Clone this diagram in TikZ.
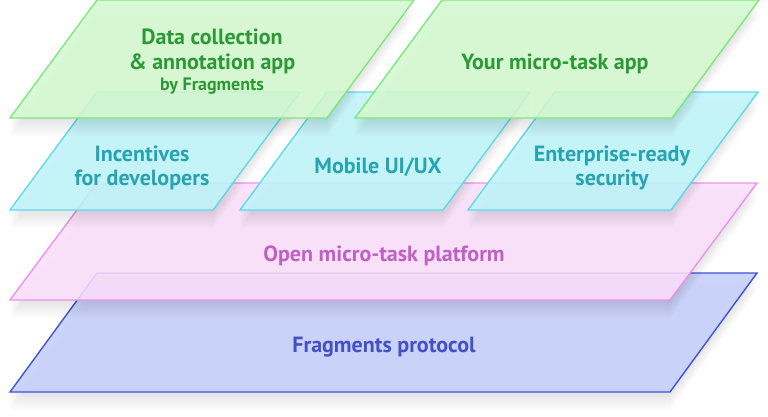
\documentclass[tikz,border=0pt]{standalone}
\usepackage{fontspec}
\setmainfont{PT Sans}
\usepackage{xcolor}
\usetikzlibrary{positioning}

% layer colours
\definecolor{appfill}{HTML}{D4FAD0}
\definecolor{appline}{HTML}{7FE87D}
\definecolor{apptext}{HTML}{2C9936}
\definecolor{modfill}{HTML}{C0F5FB}
\definecolor{modline}{HTML}{5EDBEB}
\definecolor{modtext}{HTML}{28A3B0}
\definecolor{platfill}{HTML}{FCDFFC}
\definecolor{platline}{HTML}{EF90EF}
\definecolor{plattext}{HTML}{BF60C4}
\definecolor{protfill}{HTML}{C5CFFB}
\definecolor{protline}{HTML}{4351D6}
\definecolor{prottext}{HTML}{4450C4}

% slanted plate with a soft shadow: colour, left x, width, top y, bottom y
\newcommand{\plate}[5]{%
  \foreach \k in {1,...,9}{
    \fill[black, opacity=0.012, shift={(0,2*\k)}]
      (#2,#5) -- ++(#3,0) -- (#2+#3+87,#4) -- (#2+87,#4) -- cycle;
  }
  \filldraw[platestyle, draw=#1line, fill=#1fill]
    (#2,#5) -- ++(#3,0) -- (#2+#3+87,#4) -- (#2+87,#4) -- cycle;
}

\begin{document}
\begin{tikzpicture}[x=1pt, y=-1pt,
  platestyle/.style={line width=1.4pt, fill opacity=0.88},
  lbl/.style={font=\fontsize{22}{24}\selectfont\bfseries, align=center},
  sublbl/.style={font=\fontsize{18}{20}\selectfont\bfseries}]
  \useasboundingbox (0,0) rectangle (768,416);

  % bottom to top
  \plate{prot}{10}{660}{273}{392}
  \plate{plat}{10}{660}{183}{300}
  \foreach \x in {10,240,468}{
    \plate{mod}{\x}{203}{92}{210}
  }
  \plate{app}{10}{317}{0}{118}
  \plate{app}{355}{317}{0}{118}

  % labels
  \node[lbl, text=prottext] (protocol) at (384,347) {Fragments protocol};
  \node[lbl, text=plattext] (platform) at (384,256) {Open micro-task platform};
  \node[lbl, text=modtext] (incent) at (142,168) {Incentives\\for developers};
  \node[lbl, text=modtext] (mobile) at (378,167) {Mobile UI/UX};
  \node[lbl, text=modtext] (secure) at (612,168) {Enterprise-ready\\security};
  \node[lbl, text=apptext, font=\fontsize{22}{25}\selectfont\bfseries] (datacol) at (212,51) {Data collection\\\& annotation app};
  \node[sublbl, text=apptext] (byfrag) at (212,86) {by Fragments};
  \node[lbl, text=apptext] (yourapp) at (555,64) {Your micro-task app};
\end{tikzpicture}
\end{document}
